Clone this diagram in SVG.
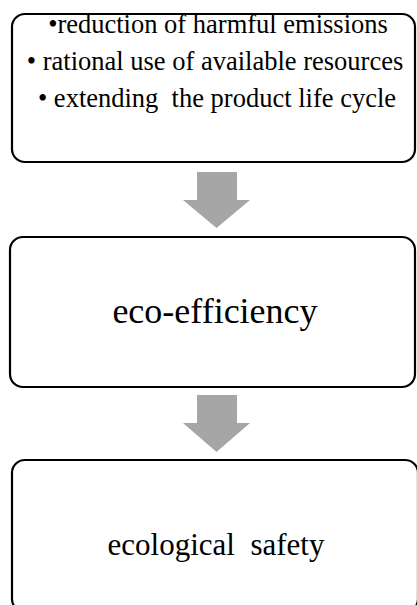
<svg xmlns="http://www.w3.org/2000/svg" width="417" height="605" viewBox="0 0 417 605">
<style>
.box{fill:#fff;stroke:#000;stroke-width:2.2}
.arr{fill:#a6a6a6}
.t{font-family:"Liberation Serif","Times New Roman",serif;fill:#000;text-anchor:middle;white-space:pre}
</style>
<rect width="417" height="605" fill="#fff"/>
<g id="node1">
<rect class="box" x="12" y="14" width="403" height="148" rx="13"/>
<text class="t" font-size="26.5" x="218" y="33">•reduction of harmful emissions</text>
<text class="t" font-size="26.5" x="215" y="70">• rational use of available resources</text>
<text class="t" font-size="26.5" x="217" y="107" xml:space="preserve">• extending  the product life cycle</text>
</g>
<g id="node2">
<rect class="box" x="10" y="237" width="405" height="150" rx="13"/>
<text class="t" font-size="36" x="215" y="323">eco-efficiency</text>
</g>
<g id="node3">
<rect class="box" x="12" y="460" width="406" height="152" rx="13"/>
<text class="t" font-size="31" x="216" y="555" xml:space="preserve">ecological  safety</text>
</g>
<g id="connectors">
<path class="arr" d="M197,172 H237 V200 H250 L216.5,228 L183,200 H197 Z"/>
<path class="arr" d="M197,395 H237 V423 H250 L216.5,452 L183,423 H197 Z"/>
</g>
</svg>
